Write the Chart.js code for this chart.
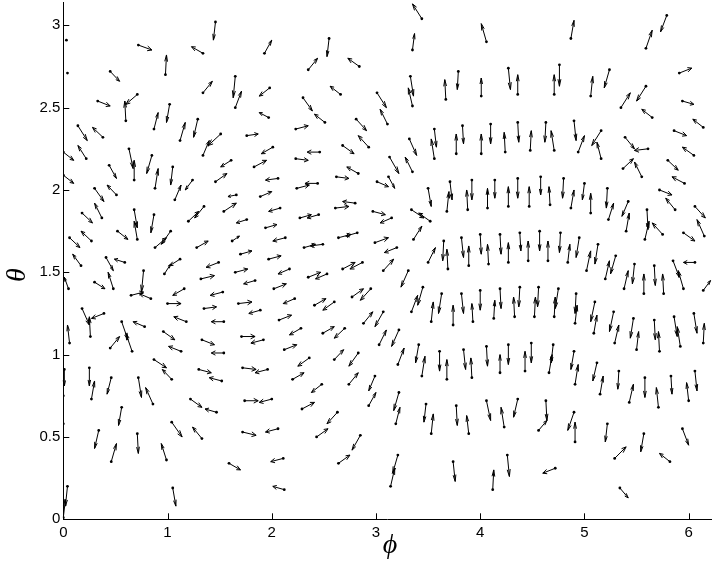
<!DOCTYPE html>
<html><head><meta charset="utf-8">
<script src="https://cdn.jsdelivr.net/npm/chart.js@4.4.1/dist/chart.umd.min.js"></script>
<style>html,body{margin:0;padding:0;background:#fff;overflow:hidden}#wrap{width:713px;height:563px}</style>
</head><body><div id="wrap"><canvas id="c" width="713" height="563"></canvas></div>
<script>
// Quiver field: tail position (phi, theta) and vector components (u, v), in data units.
const tailX = [
 1.46,0.72,1.34,0.98,0.45,1.34,1.65,0.71,0.33,0.60,1.02,0.87,0.14,0.38,1.12,1.29,1.51,1.34,0.00,0.22,0.63,0.68,0.85,0.44,1.05,0.88,1.61,1.46,0.00,1.24,0.03,0.04,
 3.44,3.35,1.93,2.55,2.35,2.84,1.65,1.98,2.66,3.79,3.67,3.33,3.35,3.01,2.30,1.97,2.51,3.11,2.23,2.81,1.76,3.56,3.56,3.83,3.77,2.93,2.01,2.46,2.23,2.68,3.32,3.35,3.13,1.83,2.83,2.06,2.62,2.44,2.24,3.01,3.12,
 4.06,4.87,5.59,5.79,4.01,4.27,4.36,4.76,4.71,5.06,5.24,5.91,5.35,5.59,5.65,5.94,6.14,4.01,4.10,4.24,4.36,4.48,4.63,4.71,4.90,4.94,5.16,5.16,5.39,5.61,5.37,5.55,5.86,6.05,5.80,5.96,
 0.30,0.51,1.07,0.18,0.37,0.68,0.71,0.87,1.35,1.20,1.66,1.54,0.06,0.27,0.52,0.88,1.03,1.28,1.62,0.17,0.41,0.59,1.12,0.97,1.49,1.32,0.05,0.30,0.48,0.77,0.65,0.84,1.16,1.00,1.53,1.35,0.18,0.26,0.39,0.56,0.66,0.78,1.18,1.54,0.06,0.45,0.96,1.13,1.33,1.54,0.87,1.04,1.30,1.52,0.01,0.25,
 0.27,0.46,0.72,0.86,0.56,1.22,1.47,0.34,0.71,1.04,1.33,0.46,0.99,1.59,0.04,0.00,1.05,0.00,0.00,
 2.48,2.99,1.74,2.00,2.29,2.63,2.93,3.22,3.19,3.48,3.53,3.77,3.89,1.72,2.06,2.43,2.85,2.11,2.64,3.21,3.14,3.74,2.12,
 4.06,4.23,4.36,4.63,4.56,4.91,4.90,5.22,5.57,5.94,5.29,5.82,4.12,4.26,4.72,5.34,5.15,5.33,5.43,5.58,5.71,5.83,6.00,6.06,
 4.07,4.14,4.27,4.36,4.47,4.58,4.67,4.80,4.87,5.00,5.06,5.22,5.23,5.42,5.40,5.60,5.58,5.72,5.87,5.75,6.06,6.15,5.95,
 4.00,4.08,4.19,4.27,4.38,4.46,4.57,4.65,4.77,4.84,4.95,5.02,5.13,5.20,5.30,5.38,5.48,5.57,5.67,5.76,5.85,5.95,6.06,6.14,
 3.93,4.00,4.13,4.19,4.33,4.38,4.52,4.56,4.71,4.75,4.92,4.91,5.10,5.09,5.28,5.29,5.47,5.50,5.67,5.72,5.86,5.92,6.05,6.14,
 4.06,4.19,4.27,4.43,4.49,4.70,4.66,4.90,4.91,5.12,
 1.89,2.08,1.76,1.94,2.45,2.27,2.80,2.61,2.97,3.15,3.34,3.52,3.50,3.68,3.71,3.88,3.92,2.13,1.70,2.49,
 2.31,2.82,2.64,2.99,3.20,3.36,3.65,3.69,3.50,3.82,3.89,1.97,1.65,2.17,2.35,2.53,2.68,2.87,3.07,1.84,
 2.02,3.31,2.77,2.95,3.34,3.45,3.53,3.63,3.74,3.82,1.68,1.89,2.22,2.41,2.60,2.07,2.88,3.07,1.71,1.92,
 2.28,2.49,2.70,2.12,3.03,3.22,3.21,3.41,3.44,3.61,3.68,3.84,3.92,1.72,1.96,2.36,2.60,2.83,2.20,2.74
];
const tailY = [
 3.02,2.88,2.83,2.70,2.72,2.59,2.69,2.58,2.54,2.42,2.52,2.37,2.39,2.32,2.30,2.43,2.34,2.21,2.23,2.19,2.25,2.06,2.21,2.15,2.14,2.01,2.18,2.05,2.09,2.06,2.91,2.71,
 3.04,2.85,2.83,2.92,2.73,2.75,2.50,2.62,2.58,2.72,2.55,2.69,2.51,2.59,2.56,2.44,2.41,2.40,2.37,2.43,2.33,2.37,2.19,2.39,2.22,2.26,2.26,2.23,2.19,2.27,2.31,2.11,2.20,2.14,2.10,2.07,2.08,2.04,2.01,2.05,2.08,
 2.90,2.92,2.86,3.06,2.57,2.74,2.58,2.76,2.58,2.57,2.73,2.71,2.50,2.63,2.44,2.54,2.38,2.22,2.40,2.23,2.41,2.24,2.41,2.24,2.42,2.23,2.36,2.19,2.32,2.25,2.13,2.08,2.36,2.21,2.18,2.04,
 2.01,1.97,1.94,1.86,1.83,1.88,1.70,1.85,1.90,1.81,1.97,1.87,1.71,1.69,1.75,1.65,1.75,1.65,1.69,1.54,1.59,1.56,1.58,1.49,1.56,1.46,1.40,1.44,1.40,1.51,1.36,1.34,1.40,1.31,1.38,1.28,1.28,1.11,1.25,1.20,1.02,1.17,1.20,1.20,1.07,1.04,1.14,1.02,1.09,1.01,0.97,0.85,0.91,0.84,0.91,0.92,
 0.73,0.86,0.86,0.70,0.68,0.73,0.65,0.54,0.52,0.59,0.49,0.35,0.36,0.34,0.20,0.01,0.19,0.75,0.58,
 0.82,0.87,0.72,0.73,0.67,0.65,0.69,0.77,0.58,0.70,0.52,0.69,0.52,0.53,0.55,0.50,0.51,0.37,0.34,0.39,0.20,0.35,0.18,
 0.72,0.56,0.73,0.72,0.54,0.47,0.65,0.58,0.52,0.55,0.37,0.35,0.18,0.39,0.31,0.19,0.76,0.90,0.71,0.86,0.68,0.87,0.72,0.90,
 1.89,2.06,1.90,2.07,1.90,2.08,1.91,2.07,1.89,2.04,1.86,2.01,1.82,1.93,1.75,1.88,1.70,2.00,1.88,1.73,1.90,1.72,1.74,
 1.73,1.55,1.73,1.56,1.74,1.57,1.75,1.57,1.74,1.56,1.71,1.51,1.67,1.46,1.60,1.40,1.55,1.37,1.54,1.37,1.57,1.40,1.56,1.39,
 1.20,1.39,1.22,1.40,1.23,1.41,1.23,1.41,1.23,1.40,1.37,1.19,1.32,1.13,1.26,1.07,1.22,1.03,1.21,1.02,1.23,1.05,1.25,1.07,
 1.05,0.89,1.06,0.90,1.07,1.06,0.89,1.02,0.82,0.95,
 1.96,1.89,1.82,1.77,1.85,1.83,1.92,1.89,1.87,1.83,1.88,1.81,2.01,1.87,2.05,1.88,2.06,1.71,1.61,1.67,
 1.65,1.74,1.71,1.68,1.65,1.70,1.69,1.52,1.56,1.71,1.54,1.58,1.50,1.52,1.47,1.49,1.52,1.56,1.51,1.45,
 1.40,1.51,1.35,1.40,1.26,1.41,1.20,1.37,1.18,1.37,1.31,1.27,1.34,1.30,1.32,1.21,1.19,1.26,1.11,1.09,
 1.16,1.13,1.16,1.03,1.06,1.15,0.94,1.06,0.87,1.02,0.85,1.03,0.86,0.92,0.91,0.98,0.97,1.01,0.85,0.82
];
const compU = [
 -0.02,0.13,-0.11,0.01,0.09,0.09,-0.02,-0.11,0.12,-0.01,-0.03,0.04,0.09,-0.10,0.05,-0.04,-0.12,0.06,0.10,-0.08,0.04,0.00,-0.05,0.07,-0.02,0.03,-0.10,0.11,0.10,-0.07,0,0,
 -0.09,0.02,0.07,-0.02,0.09,-0.11,0.06,-0.10,-0.10,-0.01,-0.01,0.03,-0.04,0.09,0.09,-0.09,-0.10,-0.07,0.12,0.10,0.11,0.02,-0.03,0.01,0.00,-0.10,-0.11,-0.12,0.12,0.11,0.07,-0.07,0.09,0.12,-0.11,-0.12,0.12,-0.12,0.12,0.11,0.06,
 -0.05,0.03,0.06,-0.06,0.00,0.02,0.00,0.00,0.00,0.02,-0.05,0.12,0.09,-0.09,-0.10,0.11,-0.10,0.00,0.00,-0.01,0.01,0.01,-0.01,-0.03,0.02,0.06,-0.09,-0.04,0.09,-0.13,0.10,-0.07,0.12,-0.11,0.10,-0.12,
 0.09,-0.09,0.06,0.10,-0.07,0.03,-0.03,-0.03,-0.09,0.10,-0.08,0.12,0.10,-0.10,0.10,0.11,-0.09,0.11,0.07,-0.08,0.07,-0.10,-0.10,0.06,-0.12,0.13,-0.04,0.10,-0.05,-0.02,0.12,-0.11,-0.11,0.13,-0.12,0.12,0.07,-0.01,-0.12,0.06,-0.06,-0.11,-0.12,-0.12,-0.02,0.09,0.11,-0.12,0.12,-0.12,0.12,-0.09,0.12,-0.12,0.00,0.00,
 0.03,-0.04,0.03,-0.07,-0.03,0.11,-0.11,-0.04,0.01,0.10,-0.09,0.05,-0.05,0.11,-0.02,0.02,0.03,0,0,
 -0.10,-0.06,0.13,-0.12,0.12,-0.10,0.07,-0.05,0.04,-0.02,0.02,0.01,-0.02,0.13,-0.12,0.11,-0.08,-0.12,0.11,-0.05,0.04,0.02,-0.11,
 0.04,-0.03,-0.04,0.01,0.08,0.00,-0.06,-0.02,-0.03,0.06,0.11,-0.10,0.01,0.02,-0.12,0.08,0.03,-0.01,0.04,0.00,-0.02,0.01,-0.02,0.02,
 0.00,0.00,0.00,0.00,0.00,0.00,-0.01,-0.01,0.03,-0.02,0.00,-0.01,0.05,-0.06,0.03,0.01,0.04,0.12,-0.09,-0.10,0.10,-0.07,0.11,
 0.01,-0.01,0.01,0.00,0.01,0.00,0.00,0.00,-0.01,0.02,-0.03,0.04,-0.03,0.04,-0.05,0.04,-0.02,0.00,0.01,-0.01,0.06,-0.05,-0.11,0.07,
 -0.01,0.00,0.01,0.01,-0.01,-0.01,0.01,-0.01,0.01,-0.03,-0.01,0.02,-0.04,0.03,-0.04,0.04,-0.03,0.02,0.01,-0.01,0.03,-0.03,0.03,0.01,
 0.01,0.00,0.00,0.00,0.00,-0.02,0.03,-0.03,0.03,-0.04,
 0.11,-0.11,-0.10,0.11,-0.11,0.11,-0.12,0.13,0.12,-0.11,0.12,-0.11,0.03,0.02,0.02,-0.01,0.00,-0.12,0.11,-0.12,
 0.11,-0.11,0.12,0.13,-0.12,0.08,-0.01,-0.01,0.07,0.02,0.00,0.12,0.12,-0.11,0.12,-0.11,0.12,-0.12,0.10,-0.11,
 0.12,-0.07,0.11,-0.10,0.06,-0.05,0.02,-0.03,0.00,0.02,0.13,-0.11,-0.11,0.11,-0.11,0.12,0.09,-0.08,0.13,-0.12,
 -0.11,0.11,-0.10,0.12,0.07,-0.07,0.06,-0.03,0.03,0.00,0.00,0.02,-0.01,0.13,-0.12,-0.11,0.09,-0.09,0.11,0.09
];
const compV = [
 -0.11,-0.03,0.04,0.12,-0.06,0.07,-0.13,-0.06,-0.03,0.12,-0.11,0.10,-0.09,0.06,0.11,-0.11,-0.07,0.09,-0.05,0.08,-0.12,0.12,-0.11,-0.08,-0.11,0.12,-0.04,0.05,-0.05,-0.06,0,0,
 0.09,0.10,0.08,-0.11,0.07,0.05,0.10,-0.05,0.05,-0.11,0.12,-0.12,0.11,-0.09,-0.08,0.03,0.05,0.09,0.02,-0.07,0.01,-0.11,0.12,-0.11,0.12,0.07,-0.04,0.00,-0.01,-0.05,-0.10,0.09,-0.10,0.04,0.04,-0.01,-0.01,0.00,0.02,-0.03,-0.07,
 0.11,0.11,0.11,-0.10,0.11,-0.13,0.12,-0.13,0.12,0.12,-0.11,0.03,0.09,-0.09,0.05,-0.02,0.05,0.12,-0.12,0.12,-0.12,0.12,-0.12,0.12,-0.12,0.10,-0.09,0.10,-0.07,-0.01,0.06,0.09,-0.03,0.05,-0.06,0.04,
 -0.08,0.06,0.09,-0.06,0.09,-0.11,0.11,-0.11,-0.07,0.06,-0.01,0.05,-0.06,0.06,-0.05,0.06,-0.08,0.04,0.03,0.07,-0.08,0.02,-0.04,0.06,-0.03,0.02,0.07,-0.04,0.10,-0.13,0.02,0.03,-0.04,0.00,-0.02,0.01,-0.10,0.12,-0.03,-0.11,0.11,0.03,0.03,0.00,0.11,0.07,-0.05,0.03,-0.03,0.00,-0.05,0.06,-0.02,0.02,-0.10,-0.11,
 0.11,-0.10,-0.12,0.10,-0.11,-0.05,0.02,-0.11,-0.12,-0.09,0.07,0.11,0.10,-0.04,-0.12,0.11,-0.11,0,0,
 -0.05,-0.09,0.00,-0.02,0.04,-0.07,0.08,-0.11,0.10,-0.11,0.12,-0.12,0.11,-0.02,-0.02,0.05,-0.09,-0.02,0.05,-0.11,0.11,-0.12,0.02,
 -0.12,0.12,-0.11,-0.12,0.06,0.12,-0.11,-0.11,-0.11,-0.10,0.07,0.05,0.12,-0.13,-0.03,-0.06,0.11,-0.11,0.11,-0.12,0.12,-0.11,0.11,-0.12,
 0.12,-0.11,0.12,-0.12,0.12,-0.11,0.11,-0.12,0.11,-0.10,0.12,-0.12,0.10,-0.09,0.11,-0.12,0.11,-0.03,0.07,0.07,-0.07,0.10,-0.05,
 -0.12,0.12,-0.12,0.12,-0.11,0.12,-0.12,0.12,-0.12,0.11,-0.12,0.12,-0.12,0.11,-0.11,0.11,-0.12,0.12,-0.12,0.12,-0.10,0.11,0.00,0.06,
 0.11,-0.12,0.11,-0.12,0.12,-0.12,0.12,-0.12,0.12,-0.12,-0.12,0.11,-0.12,0.11,-0.12,0.11,-0.12,0.11,-0.12,0.12,-0.12,0.12,-0.12,0.12,
 -0.12,0.11,-0.12,0.12,-0.12,-0.11,0.11,-0.11,0.12,-0.11,
 0.03,-0.02,-0.02,0.02,-0.02,0.02,0.01,0.01,-0.02,-0.03,-0.05,0.05,-0.11,0.12,-0.11,0.12,-0.12,-0.02,0.02,-0.01,
 0.02,-0.02,0.02,0.03,-0.03,0.08,-0.12,0.12,0.09,-0.12,0.12,0.02,0.02,-0.03,0.03,-0.03,0.04,-0.04,0.07,-0.02,
 0.03,-0.10,0.05,-0.07,0.10,-0.11,0.12,-0.12,0.12,-0.12,0.01,-0.02,-0.03,0.04,-0.05,0.03,0.07,-0.09,0.00,-0.02,
 -0.04,0.04,-0.06,0.03,0.09,-0.10,0.10,-0.11,0.12,-0.12,0.12,-0.12,0.12,-0.01,-0.02,-0.05,0.06,-0.08,0.04,0.07
];
const xTicks = [0,1,2,3,4,5,6];
const yTicks = [0,0.5,1,1.5,2,2.5,3];
const xRange = [0, 6.22];
const yRange = [0, Math.PI];
const xTitle = '\u03D5';
const yTitle = '\u03B8';

const quiverPlugin = {
  id: 'quiver',
  afterDatasetsDraw(chart) {
    const ctx = chart.ctx, sx = chart.scales.x, sy = chart.scales.y;
    const alpha = 0.33, beta = 0.33;
    ctx.save();
    ctx.strokeStyle = '#000';
    ctx.lineWidth = 1;
    ctx.beginPath();
    for (let i = 0; i < tailX.length; i++) {
      const x = tailX[i], y = tailY[i], u = compU[i], v = compV[i];
      if (u === 0 && v === 0) continue;
      const x0 = sx.getPixelForValue(x), y0 = sy.getPixelForValue(y);
      const x1 = sx.getPixelForValue(x + u), y1 = sy.getPixelForValue(y + v);
      ctx.moveTo(x0, y0); ctx.lineTo(x1, y1);
      const ax = x + u - alpha * (u + beta * v), ay = y + v - alpha * (v - beta * u);
      const bx = x + u - alpha * (u - beta * v), by = y + v - alpha * (v + beta * u);
      ctx.moveTo(sx.getPixelForValue(ax), sy.getPixelForValue(ay));
      ctx.lineTo(x1, y1);
      ctx.lineTo(sx.getPixelForValue(bx), sy.getPixelForValue(by));
    }
    ctx.stroke();
    ctx.restore();
  },
  afterDraw(chart) {
    const ctx = chart.ctx, sx = chart.scales.x, sy = chart.scales.y, a = chart.chartArea;
    ctx.save();
    ctx.strokeStyle = '#000';
    ctx.lineWidth = 1;
    ctx.beginPath();
    xTicks.forEach(t => { const p = Math.round(sx.getPixelForValue(t)) + 0.5; ctx.moveTo(p, a.bottom); ctx.lineTo(p, a.bottom - 6); });
    yTicks.forEach(t => { const p = Math.round(sy.getPixelForValue(t)) + 0.5; ctx.moveTo(a.left, p); ctx.lineTo(a.left + 6, p); });
    ctx.stroke();
    ctx.fillStyle = '#000';
    ctx.font = 'italic 28px "Liberation Serif", "DejaVu Serif", serif';
    ctx.textAlign = 'center';
    ctx.textBaseline = 'middle';
    ctx.fillText(xTitle, 390, 546);
    ctx.translate(18, 275);
    ctx.rotate(-Math.PI / 2);
    ctx.fillText(yTitle, 0, 0);
    ctx.restore();
  }
};

const tickFont = { family: '"Liberation Sans", Arial, sans-serif', size: 15 };

new Chart(document.getElementById('c'), {
  type: 'scatter',
  data: { datasets: [{
    data: tailX.map((x, i) => ({ x: x, y: tailY[i] })),
    pointRadius: 1.4, pointBackgroundColor: '#000', pointBorderWidth: 0, pointHoverRadius: 1.4
  }] },
  options: {
    responsive: false, animation: false, devicePixelRatio: 1,
    layout: { padding: { top: 2, right: 0, left: 0, bottom: 0 } },
    plugins: { legend: { display: false }, tooltip: { enabled: false } },
    events: [],
    scales: {
      x: {
        type: 'linear', min: xRange[0], max: xRange[1],
        afterBuildTicks: s => { s.ticks = xTicks.map(v => ({ value: v })); },
        afterFit: s => { s.height = 43.7; s.paddingLeft = 0; s.paddingRight = 0; },
        grid: { display: false, drawTicks: false },
        border: { display: true, color: '#000', width: 1 },
        ticks: { color: '#000', font: tickFont, padding: 5, maxRotation: 0, autoSkip: false, callback: v => String(v) }
      },
      y: {
        type: 'linear', min: yRange[0], max: yRange[1],
        afterBuildTicks: s => { s.ticks = yTicks.map(v => ({ value: v })); },
        afterFit: s => { s.width = 63.3; s.paddingTop = 0; s.paddingBottom = 0; },
        grid: { display: false, drawTicks: false },
        border: { display: true, color: '#000', width: 1 },
        ticks: { color: '#000', font: tickFont, padding: 3, autoSkip: false, callback: v => String(v) }
      }
    }
  },
  plugins: [quiverPlugin]
});
</script>
</body></html>
